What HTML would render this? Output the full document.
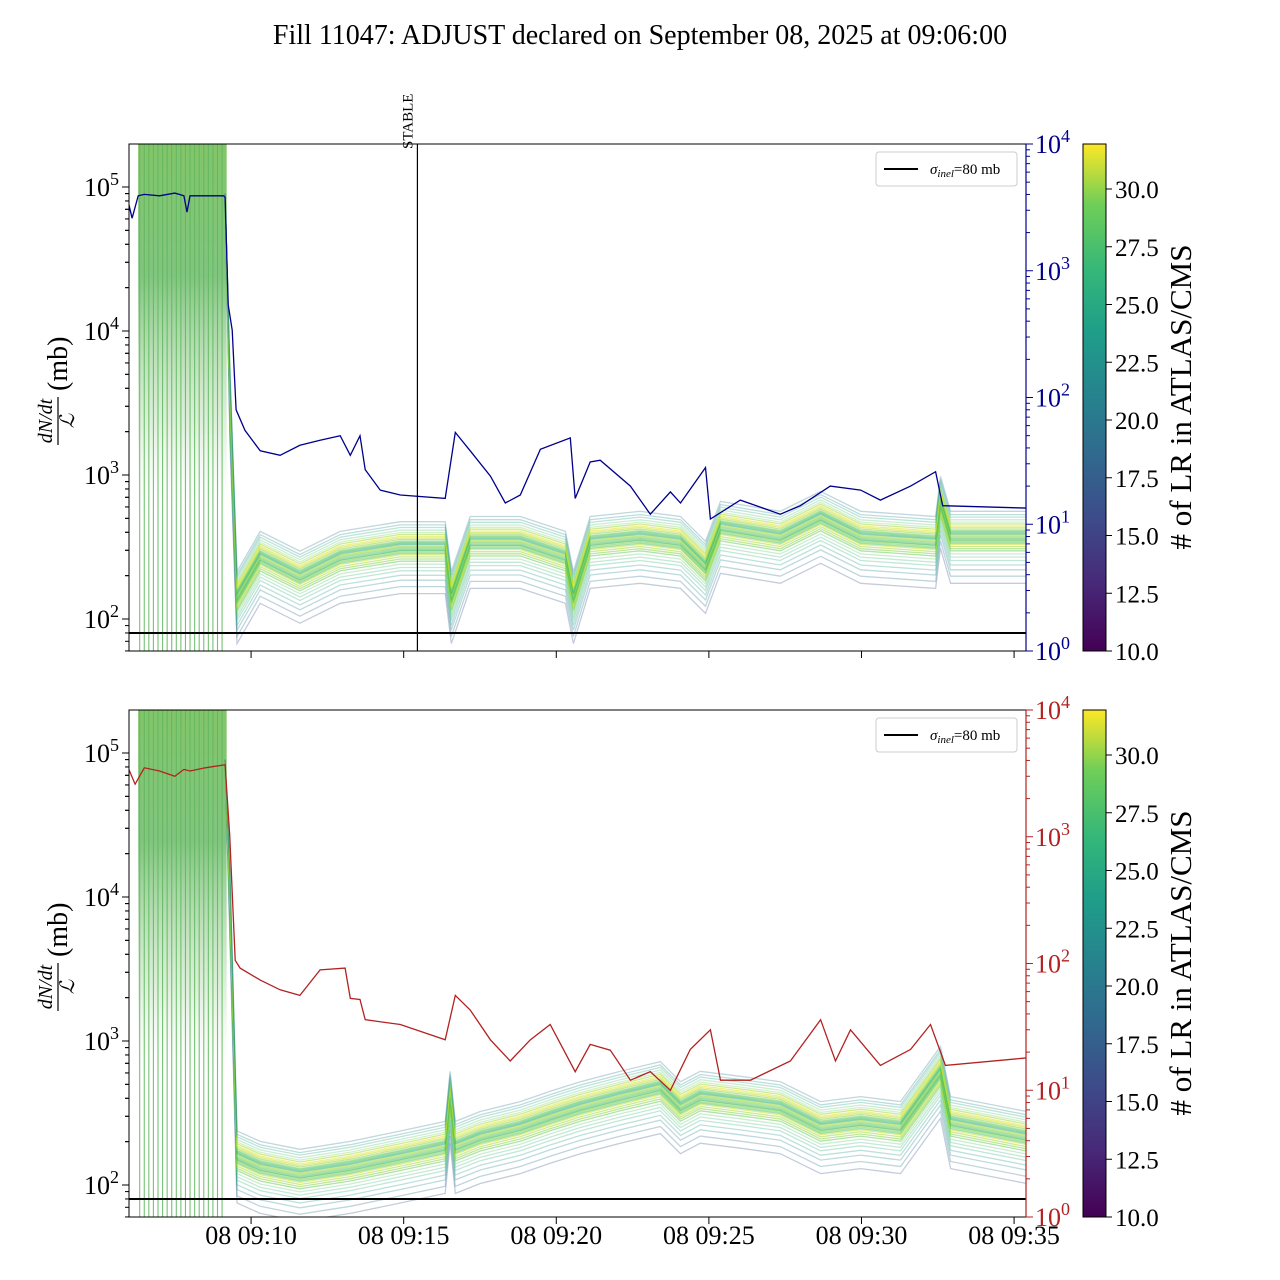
<!DOCTYPE html>
<html><head><meta charset="utf-8"><style>
html,body{margin:0;padding:0;background:#fff;}
svg{display:block;font-family:"Liberation Serif","DejaVu Serif",serif;}
</style></head><body>
<svg id="chart" width="1280" height="1280" viewBox="0 0 1280 1280" xmlns="http://www.w3.org/2000/svg">
<defs>
<linearGradient id="viridis" x1="0" y1="1" x2="0" y2="0">
<stop offset="0" stop-color="#440154"/><stop offset="0.13" stop-color="#482878"/><stop offset="0.25" stop-color="#3e4989"/><stop offset="0.38" stop-color="#31688e"/><stop offset="0.5" stop-color="#26828e"/><stop offset="0.63" stop-color="#1f9e89"/><stop offset="0.75" stop-color="#35b779"/><stop offset="0.88" stop-color="#6ece58"/><stop offset="1" stop-color="#fde725"/>
</linearGradient>
<linearGradient id="spikeband" x1="0" y1="0" x2="0" y2="1">
<stop offset="0" stop-color="#7cc261" stop-opacity="0.95"/><stop offset="0.35" stop-color="#6cbb6a" stop-opacity="0.85"/><stop offset="0.75" stop-color="#a8d8a0" stop-opacity="0.35"/><stop offset="1" stop-color="#ffffff" stop-opacity="0"/>
</linearGradient>
</defs>
<text x="640" y="44" font-size="28" text-anchor="middle">Fill 11047: ADJUST declared on September 08, 2025 at 09:06:00</text>
<g id="panels"></g>
</svg>
<script>
// ---- data ----
const xTickLabels = ["08 09:10","08 09:15","08 09:20","08 09:25","08 09:30","08 09:35"];
const xTickMinutes = [4,9,14,19,24,29]; // minutes after 09:06
const leftTickExp = [2,3,4,5];
const rightTickExp = [0,1,2,3,4];
const cbarTicks = [10.0,12.5,15.0,17.5,20.0,22.5,25.0,27.5,30.0];
const sigmaInel = 80;
const stableMinute = 9.45;
const spikeMinutes = [0.35,0.5,0.65,0.8,0.95,1.1,1.25,1.4,1.55,1.7,1.85,2.0,2.15,2.3,2.45,2.6,2.75,2.9,3.05];
// top panel: blue luminosity line (right axis)
const blueT = [0,0.1,0.3,0.5,1.0,1.5,1.8,1.9,2.0,2.5,3.1,3.15,3.25,3.38,3.51,3.8,4.3,4.95,5.6,6.26,6.92,7.25,7.57,7.74,8.23,8.89,10.36,10.69,11.18,11.84,12.33,12.82,13.48,14.46,14.62,15.11,15.44,16.43,17.08,17.74,18.07,18.89,19.05,20.03,21.34,22.0,22.98,23.97,24.62,25.61,26.43,26.66,29.41];
const blueV = [3300,2600,3900,4000,3900,4100,3900,2900,3900,3900,3900,3800,540,340,80,55,38,35,42,46,50,35,50,27,18.6,17,16,53,38,24,14.7,17,39,48,16,31,32,20,12,18,14.7,28,11,15.5,12,14,20,18.6,15.5,20,26,14,13.4];
// bottom panel: red luminosity line (right axis)
const redT = [0,0.2,0.5,1.0,1.5,1.8,2.0,2.5,3.15,3.3,3.48,3.64,4.3,4.95,5.6,6.26,7.08,7.25,7.57,7.74,8.89,10.36,10.69,11.18,11.84,12.49,13.15,13.8,14.62,15.11,15.77,16.43,17.08,17.74,18.39,19.05,19.38,20.36,21.67,22.66,23.15,23.64,24.62,25.61,26.26,26.75,29.41];
const redV = [3380,2600,3500,3300,3000,3400,3300,3500,3700,1030,106,92,74,62,56,89,92,53,52,36,33,25,56,43,25,17,25,33,14,23,20.7,12,14,10,21,30,12,12,17,36,17,30,15.7,21,33,15.7,18];
// median dN/dt / L of the LR monitors (left axis, mb)
const topMedT = [3.15,3.31,3.54,4.3,5.6,6.92,8.89,10.36,10.56,11.18,12.82,14.3,14.56,15.11,16.75,18.07,18.89,19.38,21.34,22.66,23.97,26.43,26.59,26.92,29.41];
const topMedV = [90000,3300,135,257,187,257,300,300,135,326,326,257,135,326,354,326,219,415,354,487,354,326,620,354,354];
const botMedT = [3.15,3.31,3.54,4.3,5.6,7.25,8.89,10.36,10.52,10.69,11.51,12.82,13.8,14.79,16.1,17.41,18.07,18.72,20.03,21.34,22.66,23.97,25.28,26.59,26.92,29.41];
const botMedV = [90000,9500,150,127,112,127,150,175,390,175,205,240,283,330,390,455,330,390,360,330,240,260,240,580,260,205];
// per-monitor scale factor relative to median and number of LR (colour)
const lineFactor = [0.5,0.56,0.62,0.67,0.72,0.76,0.8,0.84,0.87,0.9,0.93,0.95,0.97,0.99,1.0,1.02,1.04,1.06,1.08,1.1,1.12,1.14,1.16,1.19,1.22,1.25,1.29,1.33,1.38,1.44,1.5,1.58];
const lineLR = [16,18,20,22,24,25,26,27,28,29,30,26,27,28,25,26,27,28,29,24,25,26,27,28,30,31,29,27,26,23,21,19];

// ---- scales ----
const X0=129,X1=1026,PX_PER_MIN=30.52;
const xS = t => X0 + t*PX_PER_MIN;
const PANELS=[{top:144,bot:651,rColor:"#00008b",lineT:blueT,lineV:blueV,medT:topMedT,medV:topMedV,stable:true,xlabels:false},
              {top:710,bot:1217,rColor:"#b22222",lineT:redT,lineV:redV,medT:botMedT,medV:botMedV,stable:false,xlabels:true}];
const NS="http://www.w3.org/2000/svg";
function mk(tag,attrs,parent){const e=document.createElementNS(NS,tag);for(const k in attrs)e.setAttribute(k,attrs[k]);if(parent)parent.appendChild(e);return e;}
function viridis(v){const s=[[68,1,84],[72,40,120],[62,73,137],[49,104,142],[38,130,142],[31,158,137],[53,183,121],[110,206,88],[181,222,43],[253,231,37]];
 let f=Math.max(0,Math.min(1,(v-10)/22))*(s.length-1);const i=Math.min(s.length-2,Math.floor(f)),r=f-i;
 return "rgb("+s[i].map((c,j)=>Math.round(c+(s[i+1][j]-c)*r)).join(",")+")";}
const root=document.getElementById('panels');
PANELS.forEach((P,pi)=>{
 const g=mk('g',{},root);
 
 
 const y100 = P.top+475;
 const yL = v => y100 - 144*(Math.log10(v)-2);
 const yR = v => P.bot - 126.75*Math.log10(v);
 const clip=mk('clipPath',{id:'clip'+pi},g);mk('rect',{x:X0,y:P.top,width:X1-X0,height:P.bot-P.top},clip);
 const plot=mk('g',{'clip-path':'url(#clip'+pi+')'},g);
 const band=mk('rect',{x:xS(0.3),y:P.top,width:xS(3.2)-xS(0.3),height:(P.bot-P.top)*0.75,fill:'url(#spikeband)'},plot);
 
 
 spikeMinutes.forEach((m,i)=>{
  const l=mk('line',{x1:xS(m),x2:xS(m),y1:P.top,y2:P.bot,stroke:'#5fb75f','stroke-width':1.1,opacity:0.85},plot);
  
  
 });
 lineFactor.forEach((f,i)=>{
  let d='';P.medT.forEach((t,k)=>{const v=k===0?P.medV[k]:P.medV[k]*f;d+=(k?'L':'M')+xS(t).toFixed(1)+','+yL(v).toFixed(1);});
  const p=mk('path',{d:d,fill:'none',stroke:viridis(lineLR[i]),'stroke-width':1.3,opacity:(f>0.8&&f<1.3)?0.55:0.3},plot);
  
  
 });
 const s=mk('line',{x1:X0,x2:X1,y1:yL(sigmaInel),y2:yL(sigmaInel),stroke:'#000','stroke-width':2},plot);
 
 
 let d='';P.lineT.forEach((t,k)=>{d+=(k?'L':'M')+xS(t).toFixed(1)+','+yR(P.lineV[k]).toFixed(1);});
 const lum=mk('path',{d:d,fill:'none',stroke:P.rColor,'stroke-width':1.3},plot);
 
 
 if(P.stable){
  const sl=mk('line',{x1:xS(stableMinute),x2:xS(stableMinute),y1:P.top,y2:P.bot,stroke:'#000','stroke-width':1.2},g);
  
  
  const st=mk('text',{x:0,y:0,'font-size':15,transform:'translate('+(xS(stableMinute)-5)+','+(P.top+5)+') rotate(-90)'},g);st.textContent='STABLE';
  
  
 }
 mk('rect',{x:X0,y:P.top,width:X1-X0,height:P.bot-P.top,fill:'none',stroke:'#000','stroke-width':1},g);
 mk('line',{x1:X1,x2:X1,y1:P.top,y2:P.bot,stroke:P.rColor,'stroke-width':1.2},g);
 leftTickExp.forEach(e=>{
  const y=yL(Math.pow(10,e));
  mk('line',{x1:X0-7,x2:X0,y1:y,y2:y,stroke:'#000'},g);
  const t=mk('text',{x:X0-10,y:y+9,'font-size':26,'text-anchor':'end'},g);
  t.innerHTML='10<tspan dy="-11" font-size="18">'+e+'</tspan>';
  
  
  for(let m=2;m<10;m++){const v=m*Math.pow(10,e-1),yy=yL(v);if(yy>P.top&&yy<P.bot)mk('line',{x1:X0-4,x2:X0,y1:yy,y2:yy,stroke:'#000'},g);}
  for(let m=2;m<10;m++){const v=m*Math.pow(10,e),yy=yL(v);if(yy>P.top&&yy<P.bot)mk('line',{x1:X0-4,x2:X0,y1:yy,y2:yy,stroke:'#000'},g);}
 });
 rightTickExp.forEach(e=>{
  const y=yR(Math.pow(10,e));
  mk('line',{x1:X1,x2:X1+7,y1:y,y2:y,stroke:P.rColor},g);
  const t=mk('text',{x:X1+9,y:y+9,'font-size':26,fill:P.rColor},g);
  t.innerHTML='10<tspan dy="-11" font-size="18">'+e+'</tspan>';
  
  
  if(e<4)for(let m=2;m<10;m++){const yy=yR(m*Math.pow(10,e));mk('line',{x1:X1,x2:X1+4,y1:yy,y2:yy,stroke:P.rColor},g);}
 });
 xTickMinutes.forEach((m,i)=>{
  const x=xS(m);mk('line',{x1:x,x2:x,y1:P.bot,y2:P.bot+7,stroke:'#000'},g);
  if(P.xlabels){const t=mk('text',{x:x,y:P.bot+27,'font-size':26,'text-anchor':'middle'},g);t.textContent=xTickLabels[i];
   
   }
 });
 const yl=mk('g',{transform:'translate(58,'+(P.top+253)+') rotate(-90)'},g);
 
 
 const a=mk('text',{x:-24,y:-6,'font-size':20,'font-style':'italic','text-anchor':'middle'},yl);a.textContent='dN/dt';
 mk('line',{x1:-48,x2:0,y1:0,y2:0,stroke:'#000','stroke-width':1.2},yl);
 const b=mk('text',{x:-24,y:16,'font-size':20,'font-style':'italic','text-anchor':'middle'},yl);b.textContent='\u2112';
 const c=mk('text',{x:6,y:9,'font-size':28},yl);c.textContent='(mb)';
 const lg=mk('g',{},g);
 
 
 mk('rect',{x:876,y:P.top+8,width:141,height:34,rx:3,fill:'#fff',stroke:'#ccc'},lg);
 mk('line',{x1:884,x2:918,y1:P.top+25,y2:P.top+25,stroke:'#000','stroke-width':2},lg);
 const lt=mk('text',{x:930,y:P.top+30,'font-size':15},lg);
 lt.innerHTML='<tspan font-style="italic">σ</tspan><tspan font-style="italic" font-size="11" dy="3">inel</tspan><tspan dy="-3">=80 mb</tspan>';
 const cb=mk('g',{},g);
 
 
 mk('rect',{x:1083,y:P.top,width:23,height:P.bot-P.top,fill:'url(#viridis)',stroke:'#000','stroke-width':1},cb);
 cbarTicks.forEach(v=>{const y=P.bot-(v-10)*23.1;mk('line',{x1:1106,x2:1112,y1:y,y2:y,stroke:'#000'},cb);
  const t=mk('text',{x:1115,y:y+9,'font-size':25},cb);t.textContent=v.toFixed(1);
  
  });
 const cl=mk('text',{x:0,y:0,'font-size':31,'text-anchor':'middle',transform:'translate(1191,'+(P.top+253)+') rotate(-90)'},cb);
 cl.textContent='# of LR in ATLAS/CMS';
 
 
});
</script>
</body></html>
